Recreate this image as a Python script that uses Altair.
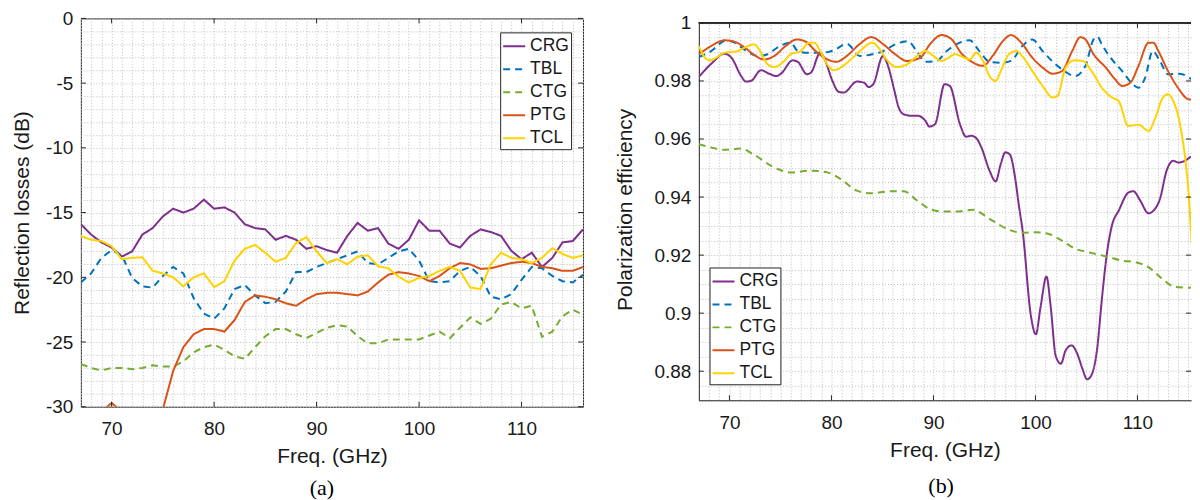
import altair as alt
import pandas as pd

SERIES = ["CRG", "TBL", "CTG", "PTG", "TCL"]
COLORS = ["#7E2F8E", "#0072BD", "#77AC30", "#D95319", "#FFD300"]
DASHES = [[1, 0], [7, 5], [7, 5], [1, 0], [1, 0]]

# ---------------- panel (a): reflection losses (dB) ----------------
freq_a = list(range(67, 117))
crg_a = [-15.9, -16.7, -17.3, -17.7, -18.4, -18.0, -16.7, -16.2, -15.3, -14.7,
         -15.0, -14.7, -14.0, -14.7, -14.6, -15.0, -15.9, -16.2, -16.3, -17.1,
         -16.8, -17.1, -17.8, -17.6, -17.9, -18.1, -16.8, -15.8, -16.4, -16.2,
         -17.4, -17.8, -17.1, -15.6, -16.4, -16.4, -17.4, -17.7, -16.8, -16.3,
         -16.5, -16.8, -17.95, -18.6, -18.1, -19.2, -18.5, -17.3, -17.2, -16.3]
tbl_a = [-20.4, -19.7, -18.5, -17.9, -18.3, -20.05, -20.7, -20.8, -19.9, -19.2,
         -19.7, -21.6, -22.8, -23.2, -22.4, -20.9, -20.6, -21.4, -22.0, -21.9,
         -21.1, -19.6, -19.6, -19.2, -18.9, -18.6, -18.3, -18.0, -18.9, -19.0,
         -18.5, -18.0, -17.8, -18.7, -20.3, -20.4, -20.3, -19.5, -19.2, -19.9,
         -21.5, -21.7, -21.3, -20.2, -19.2, -19.3, -19.9, -20.3, -20.4, -19.8]
ctg_a = [-26.7, -27.0, -27.2, -27.0, -27.0, -27.1, -27.0, -26.8, -26.9, -26.9,
         -26.5, -25.8, -25.4, -25.2, -25.6, -26.1, -26.3, -25.4, -24.55, -24.0,
         -24.0, -24.4, -24.7, -24.3, -23.9, -23.7, -23.8, -24.55, -25.1, -25.1,
         -24.8, -24.8, -24.8, -24.8, -24.5, -24.2, -24.7, -23.9, -23.1, -23.6,
         -23.2, -22.1, -21.9, -22.4, -22.2, -24.6, -24.2, -23.0, -22.5, -22.9]
ptg_a = [-32.5, -31.5, -30.4, -29.7, -30.4, -32.0, -33.0, -32.5, -30.2, -27.25,
         -25.4, -24.4, -24.0, -24.0, -24.2, -23.3, -21.9, -21.4, -21.5, -21.7,
         -22.0, -22.2, -21.7, -21.3, -21.2, -21.2, -21.3, -21.4, -21.1, -20.4,
         -19.8, -19.6, -19.7, -19.9, -20.3, -19.9, -19.3, -18.9, -19.0, -19.35,
         -19.3, -19.1, -18.9, -18.8, -18.9, -19.2, -19.3, -19.5, -19.5, -19.2]
tcl_a = [-16.8, -17.1, -17.2, -17.6, -18.6, -18.5, -18.45, -19.5, -19.7, -20.0,
         -20.7, -20.0, -19.7, -20.75, -20.3, -18.7, -17.8, -17.5, -18.1, -18.8,
         -18.5, -17.35, -16.9, -18.0, -18.9, -18.6, -19.0, -18.4, -18.3, -19.15,
         -19.3, -19.95, -20.4, -20.05, -19.9, -19.5, -19.2, -19.5, -20.8, -20.9,
         -19.0, -18.1, -18.5, -18.6, -18.9, -18.5, -17.75, -18.2, -18.5, -18.3]

# ---------------- panel (b): polarization efficiency ----------------
crg_b_f = [67, 68.3, 69.5, 70.2, 71.15, 71.6, 72.1, 73.1, 73.9, 74.6, 75.05, 76.2,
           76.7, 77.6, 78.0, 78.9, 79.4, 80.1, 80.7, 81.2, 82.5, 83.2, 83.65, 84.1,
           85.05, 85.6, 86.1, 86.6, 87.1, 87.9, 88.5, 89.2, 89.6, 90.15, 91.1, 91.6,
           92.6, 93.2, 93.7, 94.2, 94.7, 95.5, 96.1, 96.6, 97.05, 97.5, 98.0, 98.4,
           98.74, 99.55, 100.04, 100.5, 101.08, 101.5, 101.99, 102.5, 102.96, 103.55,
           104.1, 104.6, 105.07, 105.56, 106.05, 106.53, 107.0, 107.5, 108.16, 109.13,
           109.6, 110.27, 111.08, 111.57, 112.2, 112.86, 113.5, 114.0, 114.65, 115.3,
           115.95]
crg_b = [0.9814, 0.9862, 0.9894, 0.988, 0.9817, 0.9798, 0.98, 0.9837, 0.9825, 0.9817,
         0.9825, 0.9871, 0.9866, 0.9823, 0.9829, 0.9897, 0.9869, 0.98, 0.9763, 0.976,
         0.9798, 0.9794, 0.9779, 0.9789, 0.9886, 0.9846, 0.9777, 0.9708, 0.9685, 0.968,
         0.968, 0.9663, 0.9643, 0.9651, 0.9789, 0.9783, 0.9651, 0.9608, 0.9611, 0.9603,
         0.9571, 0.9491, 0.9454, 0.9514, 0.9554, 0.9546, 0.9468, 0.9365, 0.9285, 0.8992,
         0.8927, 0.9021, 0.9126, 0.9021, 0.8852, 0.8826, 0.8872, 0.8889, 0.886, 0.8809,
         0.8772, 0.8792, 0.8878, 0.9055, 0.9204, 0.9302, 0.9353, 0.9416, 0.942, 0.9388,
         0.9344, 0.9353, 0.9393, 0.9491, 0.9525, 0.9519, 0.9525, 0.9539, 0.9542]
tbl_b_f = [67, 68.2, 69.7, 70.5, 71.6, 72.8, 73.75, 74.7, 76.0, 76.7, 77.65, 78.9,
           80.2, 81.5, 82.8, 84.0, 85.1, 86.25, 87.5, 88.35, 89.2, 90.3, 91.3, 92.25,
           93.55, 94.5, 95.5, 96.6, 97.6, 98.7, 99.7, 100.7, 101.7, 102.6, 103.9, 104.9,
           105.7, 106.1, 106.5, 107.5, 108.5, 109.45, 110.1, 110.75, 111.5, 112.2, 113.0,
           114.0, 115.1, 115.9]
tbl_b = [0.9882, 0.9903, 0.994, 0.9932, 0.9905, 0.9886, 0.9892, 0.9915, 0.9932, 0.9903,
         0.9897, 0.9897, 0.9905, 0.9928, 0.9886, 0.9892, 0.9903, 0.9926, 0.9937, 0.9903,
         0.9866, 0.9869, 0.9903, 0.9926, 0.994, 0.9903, 0.9866, 0.9863, 0.9869, 0.992,
         0.9943, 0.9903, 0.9866, 0.984, 0.9817, 0.9852, 0.9943, 0.9952, 0.9926, 0.9874,
         0.9834, 0.9792, 0.9777, 0.9811, 0.9903, 0.9869, 0.9823, 0.9825, 0.9811, 0.9783]
ctg_b_f = [67, 68.2, 69.5, 71.15, 72.3, 74.4, 76.0, 78.0, 79.6, 80.9, 82.5, 83.8, 85.8,
           87.1, 88.4, 89.65, 90.95, 92.25, 93.9, 95.5, 97.45, 98.7, 100.0, 101.3, 102.6,
           103.9, 105.2, 107.2, 108.5, 109.8, 111.1, 112.4, 113.7, 115.0, 115.95]
ctg_b = [0.9582, 0.9571, 0.9563, 0.9567, 0.9548, 0.9502, 0.9485, 0.9491, 0.9485, 0.9462,
         0.9422, 0.9413, 0.942, 0.942, 0.9388, 0.9359, 0.935, 0.935, 0.9356, 0.9325,
         0.9287, 0.9277, 0.9279, 0.9273, 0.925, 0.9222, 0.921, 0.9193, 0.9181, 0.9176,
         0.9158, 0.9119, 0.909, 0.9088, 0.9096]
ptg_b_f = [67, 68.2, 69.5, 70.5, 71.5, 72.45, 73.4, 74.4, 75.5, 76.6, 77.5, 78.45, 79.4,
           80.5, 81.5, 82.8, 83.9, 85.1, 86.25, 87.4, 88.7, 89.65, 90.8, 91.8, 92.7,
           93.9, 94.85, 95.8, 96.8, 97.6, 98.6, 99.7, 100.7, 101.7, 102.6, 103.6, 104.4,
           104.9, 105.7, 106.9, 107.8, 108.5, 109.3, 110.1, 111.1, 111.56, 112.05, 113.0,
           114.0, 115.0, 115.9]
ptg_b = [0.9892, 0.992, 0.994, 0.9935, 0.9915, 0.9889, 0.9874, 0.9886, 0.992, 0.9943,
         0.9935, 0.9903, 0.9878, 0.9866, 0.9886, 0.9928, 0.9951, 0.9926, 0.9892, 0.9869,
         0.988, 0.9926, 0.9958, 0.9943, 0.9897, 0.9863, 0.9852, 0.9886, 0.9937, 0.9958,
         0.9932, 0.988, 0.9846, 0.9825, 0.9834, 0.9903, 0.9951, 0.9943, 0.9892, 0.9846,
         0.9806, 0.9783, 0.9794, 0.9852, 0.9932, 0.9932, 0.9903, 0.9834, 0.9775, 0.9737,
         0.9734]
tcl_b_f = [67, 67.6, 68.1, 68.7, 69.5, 70.8, 71.6, 72.45, 72.9, 73.75, 74.4, 75.2, 76.0,
           77.0, 77.8, 78.3, 78.9, 79.6, 80.2, 80.9, 81.9, 82.8, 84.0, 84.6, 85.4, 86.4,
           87.4, 88.4, 89.2, 90.0, 90.8, 91.4, 92.1, 92.9, 93.55, 94.2, 94.85, 95.5,
           96.1, 96.6, 97.4, 98.1, 98.7, 99.7, 100.7, 101.7, 102.15, 102.96, 103.8,
           104.6, 105.6, 106.5, 107.5, 108.15, 109.1, 110.1, 111.1, 111.7, 112.5, 113.0,
           113.5, 114.17, 115.0, 115.5, 115.95]
tcl_b = [0.992, 0.988, 0.9871, 0.988, 0.9897, 0.9903, 0.9917, 0.9926, 0.9909, 0.9857,
         0.9848, 0.9863, 0.9892, 0.9903, 0.9932, 0.9932, 0.9903, 0.9857, 0.9837, 0.9846,
         0.9874, 0.9903, 0.9932, 0.9915, 0.9874, 0.9848, 0.9857, 0.9886, 0.9903, 0.9886,
         0.9869, 0.9878, 0.9892, 0.9882, 0.9874, 0.9897, 0.9869, 0.9817, 0.98, 0.9834,
         0.9892, 0.9903, 0.9886, 0.9834, 0.9783, 0.9743, 0.9748, 0.9846, 0.9871, 0.9869,
         0.9829, 0.9777, 0.9743, 0.9731, 0.9645, 0.9649, 0.9628, 0.9668, 0.9743, 0.9754,
         0.9731, 0.9651, 0.942, 0.916, 0.9095]

# axis / grid positions
grid_x_a = list(range(67, 117))
grid_x_b = list(range(67, 116))
grid_y_a = list(range(-30, 1))
grid_y_b = [round(0.87 + 0.005 * k, 3) for k in range(27)]
ticks_x = [70, 80, 90, 100, 110]
ticks_y_a = [-30, -25, -20, -15, -10, -5, 0]
ticks_y_b = [0.88, 0.9, 0.92, 0.94, 0.96, 0.98, 1.0]

FONT = "Liberation Sans"
TXT = "#1a1a1a"
AX = "#262626"
GRID = "#bdbdbd"


def long_df(rows):
    frames = []
    for name, fs, vs in rows:
        frames.append(pd.DataFrame({"f": fs, "v": vs, "series": name}))
    return pd.concat(frames, ignore_index=True)


df_a = long_df([("CRG", freq_a, crg_a), ("TBL", freq_a, tbl_a), ("CTG", freq_a, ctg_a),
                ("PTG", freq_a, ptg_a), ("TCL", freq_a, tcl_a)])
df_b = long_df([("CRG", crg_b_f, crg_b), ("TBL", tbl_b_f, tbl_b), ("CTG", ctg_b_f, ctg_b),
                ("PTG", ptg_b_f, ptg_b), ("TCL", tcl_b_f, tcl_b)])


def panel(df, xdom, ydom, W, H, gx, gy, ylab_expr, ytitle, ytitle_pad, yt, leg_xy,
          tag, tag_xy, interp, top_val):
    frame = top_val is None
    xs = alt.Scale(domain=xdom, nice=False, zero=False)
    ys = alt.Scale(domain=ydom, nice=False, zero=False)
    xaxis = alt.Axis(
        values=gx, grid=True, gridDash=[1, 2], gridColor=GRID, gridWidth=1,
        ticks=False, tickSize=0, domain=(not frame), domainColor=AX, zindex=0,
        labelExpr="datum.value % 10 == 0 ? '' + datum.value : ''",
        labelFontSize=19, labelFont=FONT, labelColor=TXT, labelPadding=13,
        labelOverlap=False, labelFlush=False,
        title="Freq. (GHz)", titleFont=FONT, titleFontSize=21,
        titleFontWeight="normal", titleColor=TXT, titlePadding=7)
    yaxis = alt.Axis(
        values=gy, grid=True, gridDash=[1, 2], gridColor=GRID, gridWidth=1,
        ticks=False, tickSize=0, domain=(not frame), domainColor=AX, zindex=0,
        labelExpr=ylab_expr,
        labelFontSize=19, labelFont=FONT, labelColor=TXT, labelPadding=8,
        labelOverlap=False, labelFlush=False,
        title=ytitle, titleFont=FONT, titleFontSize=21,
        titleFontWeight="normal", titleColor=TXT, titlePadding=ytitle_pad)
    legend = alt.Legend(title=None, orient="none", legendX=leg_xy[0], legendY=leg_xy[1],
                        symbolType="stroke", symbolSize=484, symbolStrokeWidth=2,
                        labelFontSize=17.5, labelFont=FONT, labelColor=TXT,
                        strokeColor=AX, fillColor="white", padding=2, rowPadding=2,
                        labelOffset=4)
    layers = []
    tx = pd.DataFrame({"f": ticks_x})
    ty = pd.DataFrame({"v": yt})
    if not frame:
        # blank strip above the top of the frame (value top_val)
        cover = alt.Chart(tx).mark_rect(color="white").encode(
            x=alt.value(0), x2=alt.value(W),
            y=alt.Y(datum=top_val, scale=ys, axis=yaxis), y2=alt.value(0))
        layers.append(cover)
    lines = alt.Chart(df).mark_line(strokeWidth=2, clip=True, interpolate=interp).encode(
        x=alt.X("f:Q", scale=xs, axis=xaxis),
        y=alt.Y("v:Q", scale=ys, axis=yaxis),
        color=alt.Color("series:N", scale=alt.Scale(domain=SERIES, range=COLORS),
                        legend=legend),
        strokeDash=alt.StrokeDash("series:N", scale=alt.Scale(domain=SERIES, range=DASHES),
                                  legend=legend),
        detail="series:N",
    )
    layers.append(lines)
    tick_style = dict(color=AX, strokeWidth=1)
    if frame:
        xt_top = alt.Chart(tx).mark_rule(**tick_style).encode(
            x=alt.X("f:Q", scale=xs, axis=xaxis), y=alt.value(0), y2=alt.value(5))
    else:
        px_per_unit = H / (ydom[1] - ydom[0])
        xt_top = alt.Chart(tx).mark_rule(**tick_style).encode(
            x=alt.X("f:Q", scale=xs, axis=xaxis),
            y=alt.Y(datum=top_val, scale=ys, axis=yaxis),
            y2=alt.Y2(datum=top_val - 5 / px_per_unit))
        top_line = alt.Chart(tx).mark_rule(color=AX, strokeWidth=1).encode(
            x=alt.value(0), x2=alt.value(W),
            y=alt.Y(datum=top_val, scale=ys, axis=yaxis))
        layers.append(top_line)
    xt_bot = alt.Chart(tx).mark_rule(**tick_style).encode(
        x=alt.X("f:Q", scale=xs, axis=xaxis), y=alt.value(H), y2=alt.value(H - 5))
    yt_left = alt.Chart(ty).mark_rule(**tick_style).encode(
        y=alt.Y("v:Q", scale=ys, axis=yaxis), x=alt.value(0), x2=alt.value(5))
    yt_right = alt.Chart(ty).mark_rule(**tick_style).encode(
        y=alt.Y("v:Q", scale=ys, axis=yaxis), x=alt.value(W), x2=alt.value(W - 5))
    label = alt.Chart(pd.DataFrame({"t": [tag]})).mark_text(
        font="Liberation Serif", fontSize=22, color="black", baseline="middle",
        align="center").encode(x=alt.value(tag_xy[0]), y=alt.value(tag_xy[1]), text="t:N")
    layers += [xt_top, xt_bot, yt_left, yt_right, label]
    ch = alt.layer(*layers).properties(width=W, height=H)
    if frame:
        ch = ch.properties(view=alt.ViewBackground(stroke=AX, strokeWidth=1))
    else:
        ch = ch.properties(view=alt.ViewBackground(stroke="transparent"))
    return ch


Wa, Ha = 503, 389
Wb, Hb = 493, 382.5
TOP_B = 1.00155

left = panel(df_a, [67, 116], [-30, 0], Wa, Ha, grid_x_a, grid_y_a,
             "datum.value % 5 == 0 ? '' + datum.value : ''",
             "Reflection losses (dB)", 13, ticks_y_a, (420, 14),
             "(a)", (Wa / 2 - 10, Ha + 81), "linear", None)
right = panel(df_b, [67, 115.25], [0.87, TOP_B], Wb, Hb, grid_x_b, grid_y_b,
              "abs(round(datum.value * 1000) % 20) == 0 ? '' + datum.value : ''",
              "Polarization efficiency", 18, ticks_y_b, (10.7, 249.5),
              "(b)", (242.7, Hb + 86), "monotone", 1.0)

chart = alt.hconcat(left, right, spacing=30).resolve_scale(
    color="independent", strokeDash="independent"
).properties(
    padding={"left": 3, "top": 0, "right": 0, "bottom": 0}
).configure(font=FONT)

chart.save("out.html", embed_options={"renderer": "svg", "actions": False})
